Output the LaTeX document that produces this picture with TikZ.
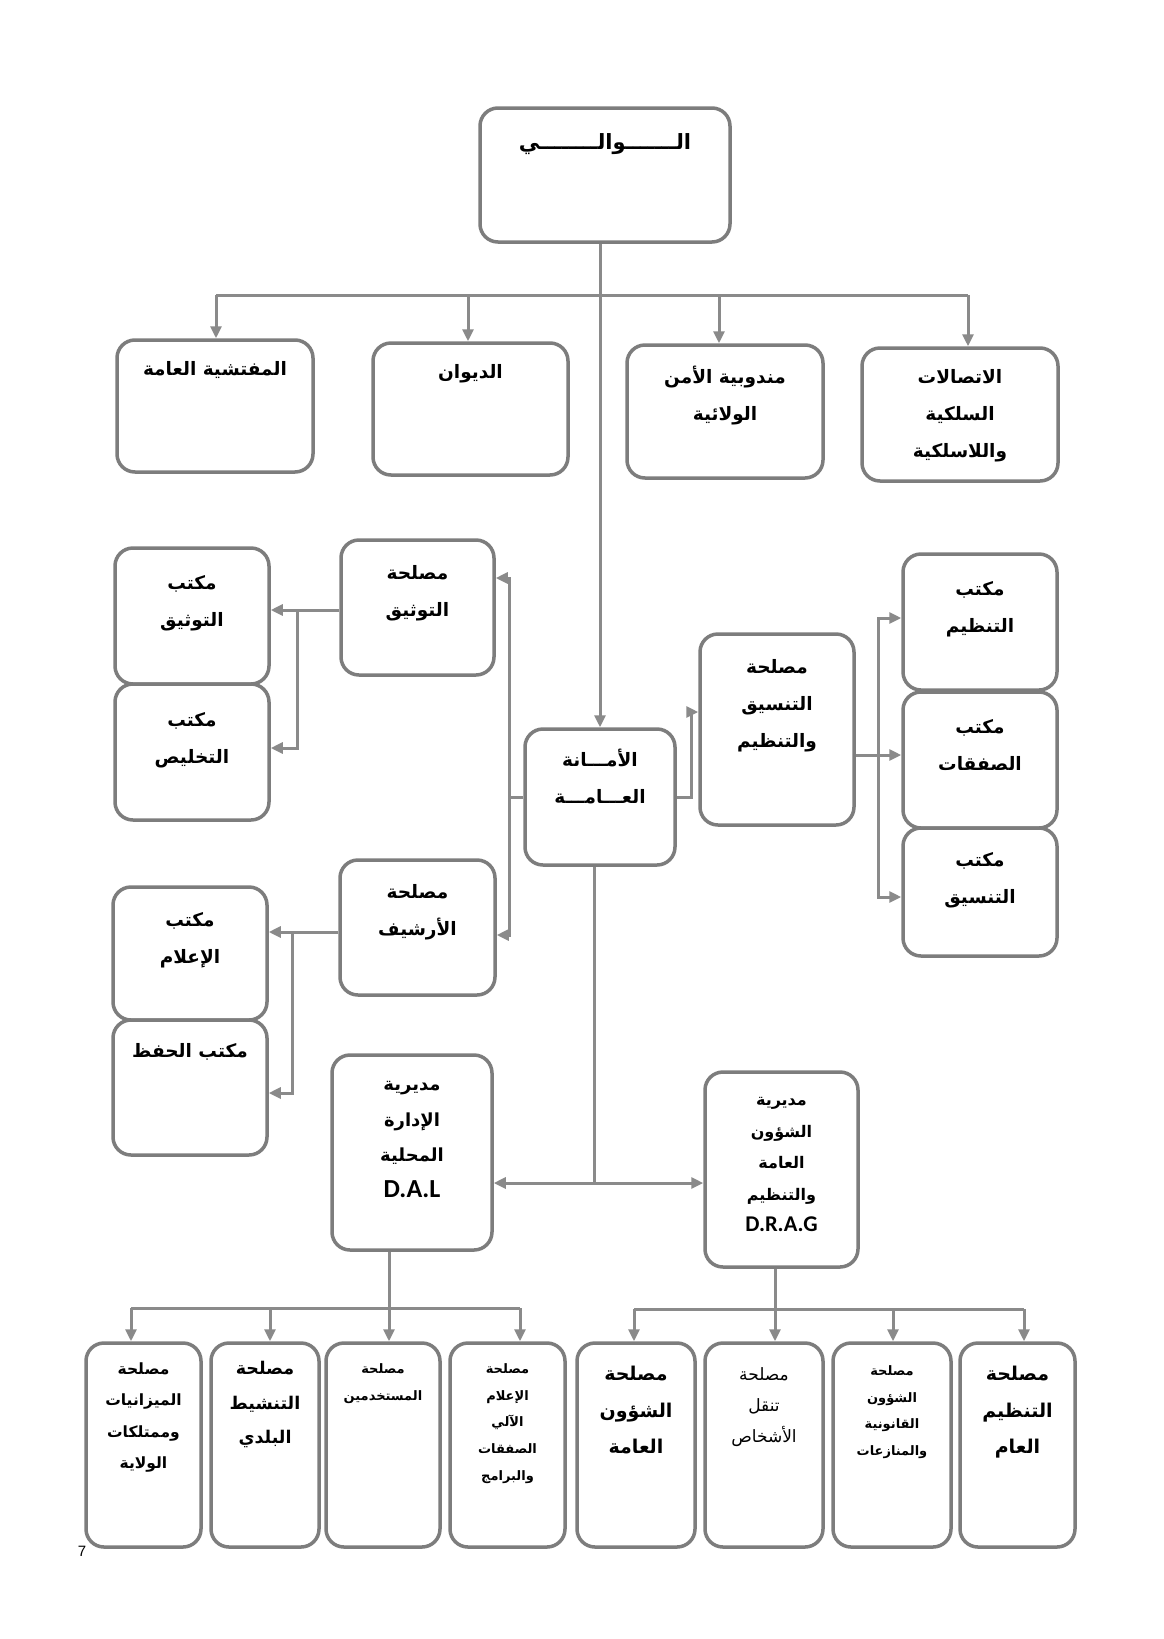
\documentclass[tikz,border=0pt]{standalone}
\usepackage{fontspec}
\setmainfont{DejaVu Sans}
\newfontfamily\arabicfont[Script=Arabic]{DejaVu Sans}
\newfontfamily\latinfont{Carlito}
\newfontfamily\pagefont{Liberation Sans}
\usetikzlibrary{arrows.meta,calc}
\TeXXeTstate=1
\newcommand\AR[1]{\beginR#1\endR}
\definecolor{boxgray}{HTML}{7D7D7D}
\definecolor{linegray}{HTML}{8A8A8A}
\newcommand\fntMain{\arabicfont\bfseries\fontsize{18.5}{37}\selectfont}
\newcommand\fntWali{\arabicfont\bfseries\fontsize{21}{37}\selectfont}
\newcommand\fntDal{\arabicfont\bfseries\fontsize{18}{35.5}\selectfont}
\newcommand\fntDrag{\arabicfont\bfseries\fontsize{16}{31.5}\selectfont}
\newcommand\fntBig{\arabicfont\bfseries\fontsize{19}{36.5}\selectfont}
\newcommand\fntBigB{\arabicfont\bfseries\fontsize{17.5}{34.5}\selectfont}
\newcommand\fntMid{\arabicfont\bfseries\fontsize{15.5}{31.5}\selectfont}
\newcommand\fntSmall{\arabicfont\bfseries\fontsize{13}{26.7}\selectfont}
\newcommand\fntSmallR{\arabicfont\fontsize{17}{31}\selectfont}
\newcommand\obox[8]{%
  \node[box, minimum width={(#4-#2)*1pt}, minimum height={(#5-#3)*1pt}] (#1) at ({(#2+#4)/2},{(#3+#5)/2}) {};
  \node[lbl, font=#7, anchor=north] (#1-t) at ([yshift=-#6pt]#1.north) {#8};
}
\begin{document}
\begin{tikzpicture}[x=1pt,y=-1pt,
  box/.style={draw=boxgray, line width=3.5pt, rounded corners=18pt, fill=white, inner sep=0pt},
  conn/.style={draw=linegray, line width=3pt},
  arr/.style={conn, -{Triangle[length=12pt,width=11pt]}},
  darr/.style={conn, {Triangle[length=12pt,width=11pt]}-{Triangle[length=12pt,width=11pt]}},
  lbl/.style={align=center, inner sep=0pt, text=black},
]
\fill[white] (0,0) rectangle (1163,1639);
\useasboundingbox (0,0) rectangle (1163,1639);

% top level
\obox{wali}{480}{108}{730}{242}{27}{\fntWali}{\AR{الـــــــوالــــــــي}}
\obox{insp}{117}{340}{313}{472}{23}{\fntMain}{\AR{المفتشية العامة}}
\obox{diwan}{373}{343}{568}{475}{23}{\fntMain}{\AR{الديوان}}
\obox{secu}{627}{345}{823}{478}{23}{\fntMain}{\AR{مندوبية الأمن}\\\AR{الولائية}}
\obox{tele}{862}{348}{1058}{481}{23}{\fntMain}{\AR{الاتصالات}\\\AR{السلكية}\\\AR{واللاسلكية}}

% middle
\obox{stawth}{341}{540}{494}{675}{27}{\fntMain}{\AR{مصلحة}\\\AR{التوثيق}}
\obox{mtawth}{115}{548}{269}{684}{29}{\fntMain}{\AR{مكتب}\\\AR{التوثيق}}
\obox{mtakh}{115}{684}{269}{820}{30}{\fntMain}{\AR{مكتب}\\\AR{التخليص}}
\obox{amana}{525}{729}{675}{865}{22}{\fntMain}{\AR{الأمـــانة}\\\AR{العـــامـــة}}
\obox{stans}{700}{634}{854}{825}{27}{\fntMain}{\AR{مصلحة}\\\AR{التنسيق}\\\AR{والتنظيم}}
\obox{mtanz}{903}{554}{1057}{690}{29}{\fntMain}{\AR{مكتب}\\\AR{التنظيم}}
\obox{msafq}{903}{692}{1057}{828}{29}{\fntMain}{\AR{مكتب}\\\AR{الصفقات}}
\obox{mtans}{903}{828}{1057}{956}{26}{\fntMain}{\AR{مكتب}\\\AR{التنسيق}}
\obox{sarch}{340}{860}{495}{995}{26}{\fntMain}{\AR{مصلحة}\\\AR{الأرشيف}}
\obox{mielam}{113}{887}{267}{1020}{27}{\fntMain}{\AR{مكتب}\\\AR{الإعلام}}
\obox{mhifz}{113}{1020}{267}{1155}{25}{\fntMain}{\AR{مكتب الحفظ}}

% directorates
\obox{dal}{332}{1055}{492}{1250}{28}{\fntDal}{\AR{مديرية}\\\AR{الإدارة}\\\AR{المحلية}\\{\latinfont\bfseries\fontsize{26}{38}\selectfont D.A.L}}
\obox{drag}{705}{1072}{858}{1267}{27}{\fntDrag}{\AR{مديرية}\\\AR{الشؤون}\\\AR{العامة}\\\AR{والتنظيم}\\{\latinfont\bfseries\fontsize{22.5}{32}\selectfont D.R.A.G}}

% bottom row
\obox{b1}{86}{1343}{201}{1547}{21}{\fntMid}{\AR{مصلحة}\\\AR{الميزانيات}\\\AR{وممتلكات}\\\AR{الولاية}}
\obox{b2}{211}{1343}{319}{1547}{20}{\fntBigB}{\AR{مصلحة}\\\AR{التنشيط}\\\AR{البلدي}}
\obox{b3}{326}{1343}{440}{1547}{22}{\fntSmall}{\AR{مصلحة}\\\AR{المستخدمين}}
\obox{b4}{450}{1343}{565}{1547}{22}{\fntSmall}{\AR{مصلحة}\\\AR{الإعلام}\\\AR{الآلي}\\\AR{الصفقات}\\\AR{والبرامج}}
\obox{b5}{577}{1343}{695}{1547}{25}{\fntBig}{\AR{مصلحة}\\\AR{الشؤون}\\\AR{العامة}}
\obox{b6}{705}{1343}{823}{1547}{26}{\fntSmallR}{\AR{مصلحة}\\\AR{تنقل}\\\AR{الأشخاص}}
\obox{b7}{833}{1343}{951}{1547}{24}{\fntSmall}{\AR{مصلحة}\\\AR{الشؤون}\\\AR{القانونية}\\\AR{والمنازعات}}
\obox{b8}{960}{1343}{1075}{1547}{25}{\fntBig}{\AR{مصلحة}\\\AR{التنظيم}\\\AR{العام}}

\node[font=\pagefont\fontsize{15}{17}\selectfont, inner sep=0pt] (pg) at (82,1551) {7};

% ---- connectors ----
% main trunk
\draw[arr] (wali.south -| amana.north) -- (amana.north);
\coordinate (a1) at (216,295);
\coordinate (a2) at (468,295);
\coordinate (a3) at (719,295);
\coordinate (a4) at (968,295);
\draw[conn] (a1) -- (a4);
\draw[arr] (a1) -- (a1 |- insp.north);
\draw[arr] (a2) -- (a2 |- diwan.north);
\draw[arr] (a3) -- (a3 |- secu.north);
\draw[arr] (a4) -- (a4 |- tele.north);

% left bracket from amana
\coordinate (lv1) at (509,578);
\coordinate (lv0) at (509,797);
\coordinate (lv2) at (509,935);
\draw[conn] (amana.west |- lv0) -- (lv0);
\draw[darr] (stawth.east |- lv1) -- (lv1) -- (lv2) -- (sarch.east |- lv2);

% right from amana to stans
\coordinate (r1) at (691,797);
\coordinate (r2) at (691,712);
\draw[arr] (amana.east |- r1) -- (r1) -- (r2) -- (stans.west |- r2);

% right bracket
\coordinate (rv1) at (878,618);
\coordinate (rv2) at (878,755);
\coordinate (rv3) at (878,897);
\draw[arr] (stans.east |- rv2) -- (msafq.west |- rv2);
\draw[darr] (mtanz.west |- rv1) -- (rv1) -- (rv3) -- (mtans.west |- rv3);

% tawthiq bracket
\coordinate (lt1) at (297,610);
\coordinate (lt2) at (297,748);
\draw[arr] (stawth.west |- lt1) -- (mtawth.east |- lt1);
\draw[arr] (lt1) -- (lt2) -- (mtakh.east |- lt2);

% archive bracket
\coordinate (la1) at (292,932);
\coordinate (la2) at (292,1093);
\draw[arr] (sarch.west |- la1) -- (mielam.east |- la1);
\draw[arr] (la1) -- (la2) -- (mhifz.east |- la2);

% lower trunk
\coordinate (lj) at (594,1183);
\draw[conn] (amana.south -| lj) -- (lj);
\draw[darr] (dal.east |- lj) -- (drag.west |- lj);

% DAL bar
\coordinate (db) at (389,1308);
\coordinate (d1) at (131,1308);
\coordinate (d2) at (270,1308);
\coordinate (d4) at (520,1308);
\draw[conn] (dal.south -| db) -- (db);
\draw[conn] (d1) -- (d4);
\draw[arr] (d1) -- (d1 |- b1.north);
\draw[arr] (d2) -- (d2 |- b2.north);
\draw[arr] (db) -- (db |- b3.north);
\draw[arr] (d4) -- (d4 |- b4.north);

% DRAG bar
\coordinate (gb) at (775,1309);
\coordinate (g1) at (634,1309);
\coordinate (g3) at (893,1309);
\coordinate (g4) at (1024,1309);
\draw[conn] (drag.south -| gb) -- (gb);
\draw[conn] (g1) -- (g4);
\draw[arr] (g1) -- (g1 |- b5.north);
\draw[arr] (gb) -- (gb |- b6.north);
\draw[arr] (g3) -- (g3 |- b7.north);
\draw[arr] (g4) -- (g4 |- b8.north);
\end{tikzpicture}
\end{document}
